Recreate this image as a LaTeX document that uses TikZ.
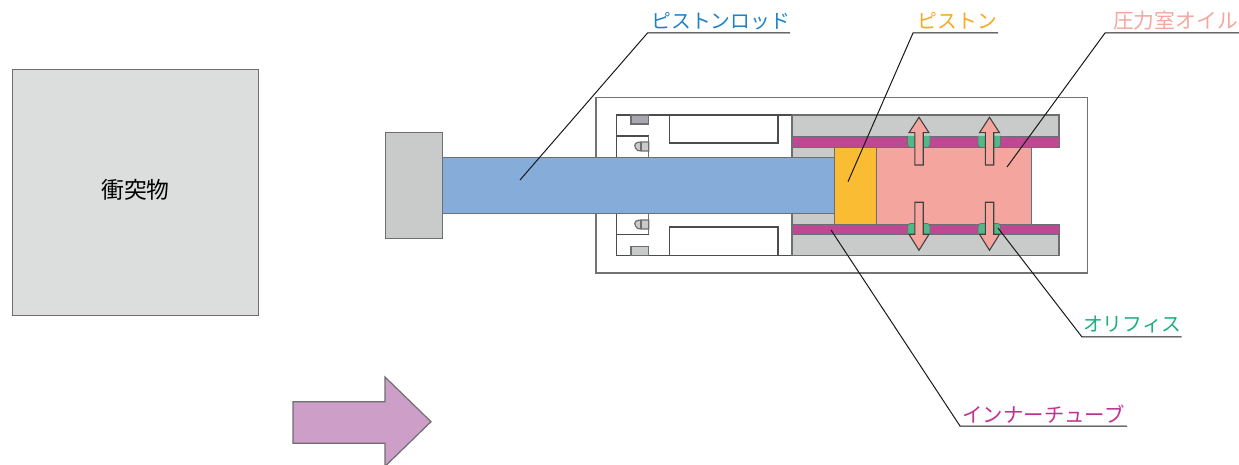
\documentclass[tikz,border=0pt]{standalone}
\usepackage{fontspec}
\setmainfont{Noto Sans CJK JP}
\definecolor{lgray}{HTML}{DCDDDD}
\definecolor{mgray}{HTML}{C9CACA}
\definecolor{rodblue}{HTML}{86ACDA}
\definecolor{pistony}{HTML}{F9BC33}
\definecolor{oilpink}{HTML}{F4A59D}
\definecolor{tubem}{HTML}{BC4A92}
\definecolor{orig}{HTML}{52B888}
\definecolor{fatarrow}{HTML}{CC9EC8}
\definecolor{edgeg}{HTML}{6E6E70}
\definecolor{txtblue}{HTML}{1E82C8}
\definecolor{txtorange}{HTML}{F7A823}
\definecolor{txtpink}{HTML}{F4A6A0}
\definecolor{txtgreen}{HTML}{1FAE80}
\definecolor{txtmag}{HTML}{C0328C}
\definecolor{blockg}{HTML}{A9A8B2}
\tikzset{
  part/.style={draw=edgeg,line width=0.6pt},
  thin part/.style={draw=edgeg,line width=0.45pt},
  housing/.style={draw=black!70,line width=0.75pt},
  leader/.style={draw=black!90,line width=0.5pt},
  callout/.style={inner sep=0pt,outer sep=0pt,minimum height=12pt,anchor=south west,font=\fontsize{9.9}{12}\selectfont},
  flow/.style={draw=black!75,line width=0.55pt,fill=oilpink,line join=miter},
}
\begin{document}
\begin{tikzpicture}[x=0.5pt,y=-0.5pt]
\useasboundingbox (0,0) rectangle (1239,465);
% impact object
\node[part,fill=lgray,anchor=north west,minimum width=123pt,minimum height=123.2pt,inner sep=0pt,outer sep=0pt,font=\fontsize{11.4}{13}\selectfont] (obj) at (12.5,69.5) {\raisebox{3.6pt}{衝突物}};
% fat arrow
\path[clip] (0,0) rectangle (1239,465);
\draw[part,fill=fatarrow] (293,401.7) -- (385,401.7) -- (385,377) -- (431,421.7) -- (385,466.4) -- (385,443.3) -- (293,443.3) -- cycle;
% outer body
\draw[part,draw=black!55] (596,97.5) rectangle (1087.5,273);
% gray cylinder
\fill[mgray] (792,115) rectangle (1059,255.7);
\fill[white] (1031,147) rectangle (1060,224);
\draw[part] (792,147) -- (792,115) -- (1059,115) -- (1059,147);
\draw[part] (792,224) -- (792,255.7) -- (1059,255.7) -- (1059,224);
% left white section
\draw[housing] (792,115) -- (616.7,115) -- (616.7,157);
\draw[housing] (792,255.7) -- (616.7,255.7) -- (616.7,213);
\draw[part] (792,115) -- (792,157) (792,213) -- (792,255.7);
\draw[housing] (669.5,115) -- (669.5,143) -- (778,143) -- (778,115);
\draw[housing] (669.5,255.7) -- (669.5,227) -- (778,227) -- (778,255.7);
\draw[housing] (616.7,136) -- (648.7,136);
\draw[part] (648.7,136) -- (648.7,157);
\draw[housing] (616.7,234.3) -- (648.7,234.3);
\draw[part] (648.7,234.3) -- (648.7,213);
% small blocks and seals
\draw[part,fill=blockg] (631,115) rectangle (648.7,124);
\draw[part,fill=mgray] (631,255.7) rectangle (648.7,246.3);
\draw[part,fill=mgray] (648.7,142) -- (641,142) .. controls (636,142) and (633.5,144) .. (635.5,148) .. controls (636.5,150.5) and (638,151) .. (641,151) -- (648.7,151) -- cycle;
\draw[part] (641,142) -- (641,151);
\draw[part,fill=mgray] (648.7,220) -- (641,220) .. controls (636,220) and (633.5,222) .. (635.5,226) .. controls (636.5,228.5) and (638,229) .. (641,229) -- (648.7,229) -- cycle;
\draw[part] (641,220) -- (641,229);
% inner tubes
\draw[thin part,fill=tubem] (792,136) rectangle (1059,147);
\draw[thin part,fill=tubem] (792,224) rectangle (1059,234.3);
% piston, oil, rod, head
\draw[thin part,fill=pistony] (834.5,147) rectangle (876.7,224);
\draw[thin part,fill=oilpink] (876.7,147) rectangle (1031,224);
\draw[thin part,fill=rodblue] (442,157) rectangle (834.5,213);
\draw[thin part,fill=mgray] (385,132) rectangle (442,238);
% orifices
\foreach \cx in {919,989.5}{
  \draw[thin part,fill=orig,rounded corners=1.5pt] (\cx-11.5,136) -- (\cx-11.5,147.5) -- (\cx+11,147.5) -- (\cx+11,136);
  \draw[thin part,fill=orig,rounded corners=1.5pt] (\cx-11.5,234.3) -- (\cx-11.5,223.5) -- (\cx+11,223.5) -- (\cx+11,234.3);
  \draw[flow] (\cx-4.2,165) -- (\cx-4.2,132.7) -- (\cx-10,132.7) -- (\cx,117.3) -- (\cx+10,132.7) -- (\cx+4.2,132.7) -- (\cx+4.2,165) -- cycle;
  \draw[flow] (\cx-4.2,202.3) -- (\cx-4.2,234.3) -- (\cx-10,234.3) -- (\cx,250.3) -- (\cx+10,234.3) -- (\cx+4.2,234.3) -- (\cx+4.2,202.3) -- cycle;
}
% callouts
\node[callout,minimum width=71pt,text=txtblue] (lrod) at (647.5,33) {\hspace*{2pt}ピストンロッド};
\node[callout,minimum width=42.5pt,text=txtorange] (lpis) at (913,33) {\hspace*{2pt}ピストン};
\node[callout,minimum width=67pt,text=txtpink,font=\fontsize{10.4}{12}\selectfont] (loil) at (1105,33) {\hspace*{3.5pt}圧力室オイル};
\node[callout,minimum width=48.5pt,text=txtgreen] (lori) at (1082,337) {\hspace*{0.5pt}オリフィス};
\node[callout,minimum width=83.5pt,text=txtmag,font=\fontsize{10.2}{12}\selectfont] (ltube) at (960,426) {インナーチューブ};
\coordinate (trod) at (520,180);
\coordinate (tpis) at (848,181.7);
\coordinate (toil) at (1007,167);
\coordinate (tori) at (998,228);
\coordinate (ttube) at (831,230);
\draw[leader] (trod) -- (lrod.south west) -- (lrod.south east);
\draw[leader] (tpis) -- (lpis.south west) -- (lpis.south east);
\draw[leader] (toil) -- (loil.south west) -- (loil.south east);
\draw[leader] (tori) -- (lori.south west) -- (lori.south east);
\draw[leader] (ttube) -- (ltube.south west) -- (ltube.south east);
\end{tikzpicture}
\end{document}
